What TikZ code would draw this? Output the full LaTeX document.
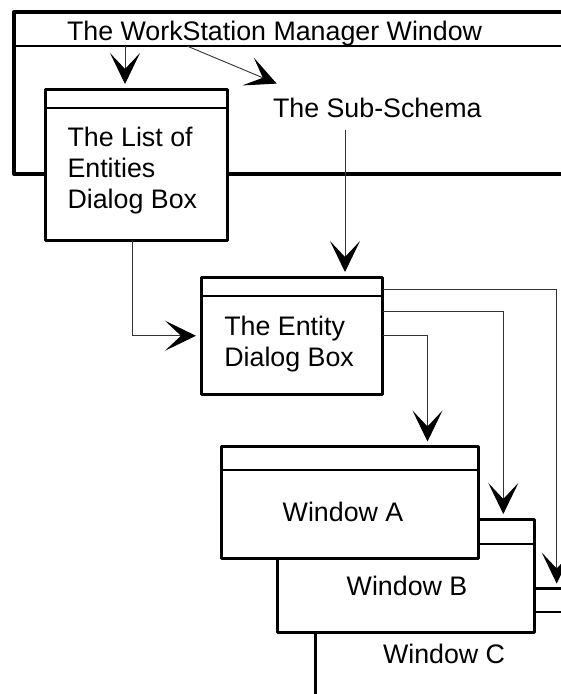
\documentclass[tikz,border=0pt]{standalone}
\usepackage{fontspec}
\setmainfont{Liberation Sans}
\usetikzlibrary{arrows.meta}
\begin{document}
\begin{tikzpicture}[x=1pt,y=-1pt,
  box/.style={draw, line width=3pt, fill=white, inner sep=0pt, outer sep=0pt, anchor=north west, line join=round},
  bar/.style={line width=2pt},
  lbl/.style={inner sep=0pt, outer sep=0pt, font=\fontsize{26.8}{31}\selectfont, anchor=base west},
  mlbl/.style={inner sep=0pt, outer sep=0pt, font=\fontsize{26.8}{31}\selectfont, align=left, anchor=north west},
  arr/.style={line width=0.9pt, draw=black!80, -{Stealth[length=31pt,width=30pt,inset=16pt,black]}, shorten >=5pt}]
\useasboundingbox (0,0) rectangle (561,694);
\clip (0,0) rectangle (561,694);
% WorkStation Manager Window
\node[box, line width=4pt, minimum width=620pt, minimum height=162pt] (ws) at (14,12) {};
\draw[bar] ([yshift=-34pt]ws.north west) -- ([yshift=-34pt]ws.north east);
\node[lbl] (wstitle) at (67,40) {The WorkStation Manager Window};
% List of Entities
\node[box, minimum width=182pt, minimum height=151pt] (list) at (45,89) {};
\draw[bar] ([yshift=-19pt]list.north west) -- ([yshift=-19pt]list.north east);
\node[mlbl] (listtxt) at (67.5,127.4) {The List of\\Entities\\Dialog Box};
% Sub-Schema
\node[lbl] (ss) at (273,117) {The Sub-Schema};
% Entity dialog box
\node[box, minimum width=181.5pt, minimum height=117.5pt] (entity) at (201,277) {};
\draw[bar] ([yshift=-19pt]entity.north west) -- ([yshift=-19pt]entity.north east);
\node[mlbl] (entitytxt) at (224.3,316.4) {The Entity\\Dialog Box};
% Windows
\node[box, minimum width=320pt, minimum height=150pt] (winC) at (315,588.5) {};
\draw[bar] ([yshift=-23pt]winC.north west) -- ([yshift=-23pt]winC.north east);
\node[box, minimum width=256.5pt, minimum height=113pt] (winB) at (277.5,519) {};
\draw[bar] ([yshift=-24.5pt]winB.north west) -- ([yshift=-24.5pt]winB.north east);
\node[box, minimum width=257pt, minimum height=112pt] (winA) at (221,446.5) {};
\draw[bar] ([yshift=-23.5pt]winA.north west) -- ([yshift=-23.5pt]winA.north east);
\node[lbl] (winAtxt) at (282.7,521.7) {Window A};
\node[lbl] (winBtxt) at (346.7,595) {Window B};
\node[lbl] (winCtxt) at (383,663) {Window C};
% connectors
\coordinate (wsA) at (125,46);
\coordinate (wsB) at (187,46);
\coordinate (ssout) at (345,130);
\draw[arr] (wsA) -- (wsA |- list.north);
\draw[arr, shorten >=0pt] (wsB) -- ([shift={(3.7,-14)}]ss.north west);
\draw[arr] (ssout) -- (ssout |- entity.north);
\draw[arr] ([xshift=-3.3pt]list.south) |- (entity.west);
\draw[arr] (entity.east) -| ([xshift=78pt]winA.north);
\draw[arr] ([yshift=-34.7pt]entity.north east) -| ([xshift=-30.7pt]winB.north east);
\draw[arr] ([yshift=-12pt]entity.north east) -| ([xshift=241.7pt]winC.north west);
\end{tikzpicture}
\end{document}
